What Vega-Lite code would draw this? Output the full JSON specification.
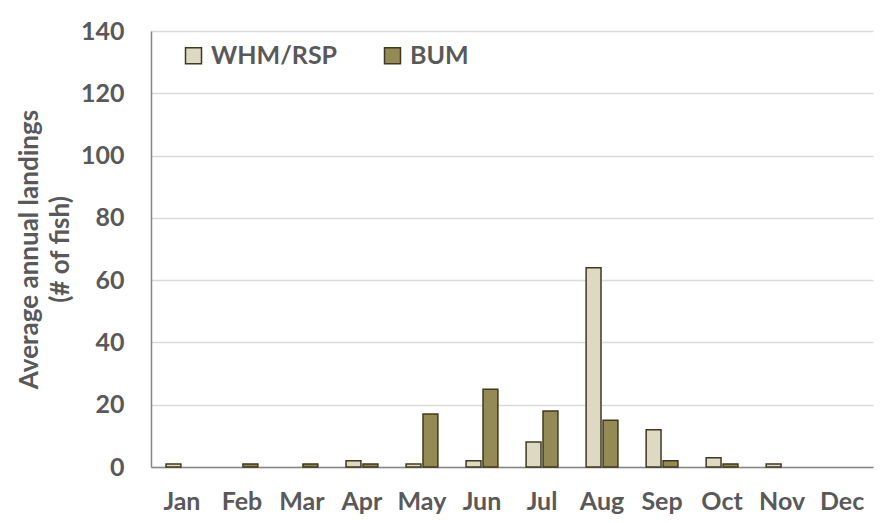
{
  "$schema": "https://vega.github.io/schema/vega-lite/v6.json",
  "width": 722,
  "height": 436,
  "autosize": "none",
  "padding": {"left": 151, "top": 31, "right": 21, "bottom": 56},
  "background": "white",
  "config": {
    "font": "Lato",
    "view": {"stroke": null},
    "axis": {"labelFont": "Lato", "titleFont": "Lato", "labelFontWeight": "bold", "titleFontWeight": "bold", "labelColor": "#595959", "titleColor": "#595959", "labelFontSize": 25, "titleFontSize": 26}
  },
  "data": {
    "values": [
      {"month": "Jan", "species": "WHM/RSP", "n": 1},
      {"month": "Jan", "species": "BUM", "n": 0},
      {"month": "Feb", "species": "WHM/RSP", "n": 0},
      {"month": "Feb", "species": "BUM", "n": 1},
      {"month": "Mar", "species": "WHM/RSP", "n": 0},
      {"month": "Mar", "species": "BUM", "n": 1},
      {"month": "Apr", "species": "WHM/RSP", "n": 2},
      {"month": "Apr", "species": "BUM", "n": 1},
      {"month": "May", "species": "WHM/RSP", "n": 1},
      {"month": "May", "species": "BUM", "n": 17},
      {"month": "Jun", "species": "WHM/RSP", "n": 2},
      {"month": "Jun", "species": "BUM", "n": 25},
      {"month": "Jul", "species": "WHM/RSP", "n": 8},
      {"month": "Jul", "species": "BUM", "n": 18},
      {"month": "Aug", "species": "WHM/RSP", "n": 64},
      {"month": "Aug", "species": "BUM", "n": 15},
      {"month": "Sep", "species": "WHM/RSP", "n": 12},
      {"month": "Sep", "species": "BUM", "n": 2},
      {"month": "Oct", "species": "WHM/RSP", "n": 3},
      {"month": "Oct", "species": "BUM", "n": 1},
      {"month": "Nov", "species": "WHM/RSP", "n": 1},
      {"month": "Nov", "species": "BUM", "n": 0},
      {"month": "Dec", "species": "WHM/RSP", "n": 0},
      {"month": "Dec", "species": "BUM", "n": 0}
    ]
  },
  "transform": [{"filter": "datum.n > 0"}],
  "mark": {"type": "bar", "stroke": "#3F3A1F", "strokeWidth": 1.5},
  "encoding": {
    "x": {
      "field": "month", "type": "nominal", "sort": ["Jan", "Feb", "Mar", "Apr", "May", "Jun", "Jul", "Aug", "Sep", "Oct", "Nov", "Dec"],
      "scale": {"domain": ["Jan", "Feb", "Mar", "Apr", "May", "Jun", "Jul", "Aug", "Sep", "Oct", "Nov", "Dec"], "paddingInner": 0.47, "paddingOuter": 0.25},
      "axis": {"title": null, "labelAngle": 0, "ticks": false, "domainColor": "#868686", "domainWidth": 1.5, "labelPadding": 22}
    },
    "xOffset": {"field": "species", "sort": ["WHM/RSP", "BUM"], "scale": {"domain": ["WHM/RSP", "BUM"], "paddingInner": 0.12}},
    "y": {
      "field": "n", "type": "quantitative",
      "scale": {"domain": [0, 140]},
      "axis": {"values": [0, 20, 40, 60, 80, 100, 120, 140], "title": ["Average annual landings", "(# of fish)"], "ticks": false, "domainColor": "#868686", "domainWidth": 1.5, "gridColor": "#D9D9D9", "gridWidth": 1.5, "labelPadding": 27, "titlePadding": 7, "titleLineHeight": 31}
    },
    "fill": {
      "field": "species", "type": "nominal",
      "sort": ["WHM/RSP", "BUM"],
      "scale": {"domain": ["WHM/RSP", "BUM"], "range": ["#DDD9C3", "#948A54"]},
      "legend": {"title": null, "orient": "none", "legendX": 30, "legendY": 12, "direction": "horizontal", "symbolType": "square", "symbolSize": 256, "symbolStrokeColor": "#3F3A1F", "symbolStrokeWidth": 1.5, "labelFontSize": 25, "labelFontWeight": "bold", "labelColor": "#595959", "labelFont": "Lato", "columnPadding": 42, "labelOffset": 5}
    }
  }
}
